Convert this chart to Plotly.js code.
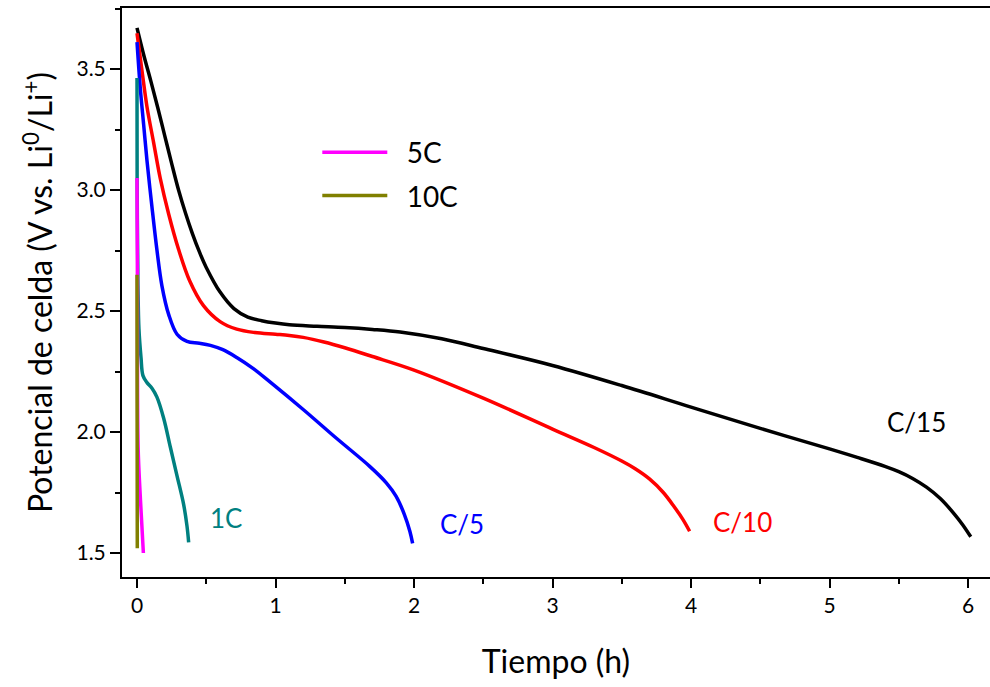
<!DOCTYPE html>
<html>
<head>
<meta charset="utf-8">
<script src="https://cdn.plot.ly/plotly-3.0.1.min.js"></script>
<style>
html,body{margin:0;padding:0;background:#fff;}
#chart{width:990px;height:687px;}
</style>
</head>
<body>
<div id="chart"></div>
<script>
// ---- Data (time in h, potential in V) ----
const t_C15 = [0, 0.05, 0.1, 0.15, 0.2, 0.25, 0.3, 0.35, 0.4, 0.45, 0.5, 0.6, 0.7, 0.8, 0.9, 1.0, 1.1, 1.3, 1.5, 1.7, 1.9, 2.2, 2.5, 3.0, 3.5, 4.0, 4.5, 5.0, 5.2, 5.4, 5.5, 5.6, 5.7, 5.8, 5.9, 5.96, 6.02];
const v_C15 = [3.670, 3.555, 3.450, 3.340, 3.225, 3.110, 3.000, 2.905, 2.820, 2.745, 2.680, 2.578, 2.510, 2.475, 2.460, 2.450, 2.443, 2.437, 2.432, 2.424, 2.413, 2.385, 2.345, 2.275, 2.192, 2.103, 2.015, 1.930, 1.895, 1.858, 1.836, 1.808, 1.772, 1.725, 1.662, 1.618, 1.567];

const t_C10 = [0, 0.036, 0.072, 0.12, 0.168, 0.229, 0.3, 0.38, 0.48, 0.6, 0.72, 0.85, 1.0, 1.1, 1.2, 1.35, 1.5, 1.7, 2.0, 2.5, 3.0, 3.3, 3.5, 3.6, 3.7, 3.8, 3.88, 3.94, 3.99];
const v_C10 = [3.648, 3.493, 3.344, 3.196, 3.048, 2.900, 2.755, 2.625, 2.522, 2.456, 2.425, 2.411, 2.404, 2.399, 2.391, 2.372, 2.348, 2.312, 2.256, 2.140, 2.012, 1.936, 1.880, 1.847, 1.806, 1.750, 1.690, 1.640, 1.590];

const t_C5 = [0, 0.024, 0.048, 0.072, 0.108, 0.144, 0.18, 0.229, 0.289, 0.361, 0.45, 0.53, 0.62, 0.72, 0.84, 0.96, 1.2, 1.44, 1.68, 1.8, 1.87, 1.93, 1.97, 1.99];
const v_C5 = [3.611, 3.419, 3.270, 3.122, 2.930, 2.752, 2.604, 2.485, 2.404, 2.374, 2.367, 2.358, 2.340, 2.308, 2.262, 2.207, 2.093, 1.974, 1.858, 1.790, 1.735, 1.660, 1.590, 1.540];

const t_1C = [0, 0.001, 0.007, 0.014, 0.029, 0.043, 0.072, 0.108, 0.144, 0.193, 0.241, 0.289, 0.337, 0.361, 0.373];
const v_1C = [3.463, 3.05, 2.604, 2.426, 2.307, 2.233, 2.204, 2.181, 2.144, 2.056, 1.937, 1.819, 1.700, 1.611, 1.544];

const t_5C = [0, 0.003, 0.008, 0.025, 0.046];
const v_5C = [3.05, 2.60, 1.94, 1.72, 1.50];

const t_10C = [0, 0.001, 0.002];
const v_10C = [2.65, 2.00, 1.52];

const xTicks = [0, 1, 2, 3, 4, 5, 6];
const yTicks = [1.5, 2.0, 2.5, 3.0, 3.5];
const curveLabels = ['C/15', 'C/10', 'C/5', '1C'];
const labelX = [5.63, 4.37, 2.35, 0.64];
const labelY = [2.04, 1.63, 1.62, 1.645];
const labelColors = ['#000000', '#ff0000', '#0000ff', '#008080'];

const FONT = 'Lato, "Open Sans", sans-serif';
const LW = 3.5;

function mk(x, y, name, color, extra) {
  return Object.assign({
    type: 'scatter', mode: 'lines', x: x, y: y, name: name,
    line: {color: color, width: LW, shape: 'spline', smoothing: 1}
  }, extra || {});
}

const traces = [
  mk(t_C15, v_C15, 'C/15', '#000000', {showlegend: false}),
  mk(t_C10, v_C10, 'C/10', '#ff0000', {showlegend: false}),
  mk(t_C5, v_C5, 'C/5', '#0000ff', {showlegend: false}),
  mk(t_1C, v_1C, '1C', '#008080', {showlegend: false}),
  mk(t_5C, v_5C, '\u00a0\u00a05C', '#ff00ff', {legendgroup: 'a'}),
  mk(t_10C, v_10C, '\u00a0\u00a010C', '#808000', {legendgroup: 'b'})
];

const annotations = curveLabels.map((txt, i) => ({
  x: labelX[i], y: labelY[i], xref: 'x', yref: 'y', text: txt, showarrow: false,
  font: {family: FONT, size: 26, color: labelColors[i]}
}));

const pxPerH = 138.5, x0px = 137, left = 122, right = 990;
const pxPerV = 242, y35px = 69, topPx = 8, botPx = 577;

const layout = {
  width: 990, height: 687,
  margin: {l: left, r: 990 - right, t: topPx, b: 687 - botPx},
  paper_bgcolor: '#ffffff', plot_bgcolor: '#ffffff',
  font: {family: FONT, color: '#000000'},
  showlegend: true,
  legend: {
    x: 0.225, y: 0.79, xanchor: 'left', yanchor: 'top',
    bgcolor: 'rgba(0,0,0,0)', font: {family: FONT, size: 28, color: '#000'},
    itemwidth: 65, tracegroupgap: 4, traceorder: 'grouped'
  },
  xaxis: {
    range: [(left - x0px) / pxPerH, (right - x0px) / pxPerH],
    tickvals: xTicks, ticktext: xTicks.map(String),
    ticks: 'outside', ticklen: 9, tickwidth: 2, tickcolor: '#000',
    minor: {dtick: 0.5, tick0: 0, ticks: 'outside', ticklen: 5, tickwidth: 2, tickcolor: '#000'},
    showline: true, linewidth: 2, linecolor: '#000', mirror: true,
    showgrid: false, zeroline: false,
    tickfont: {family: FONT, size: 21, color: '#000'},
    title: {text: 'Tiempo (h)', font: {family: FONT, size: 32, color: '#000'}, standoff: 34}
  },
  yaxis: {
    range: [3.5 - (botPx - y35px) / pxPerV, 3.5 + (y35px - topPx) / pxPerV],
    tickvals: yTicks, ticktext: yTicks.map(v => v.toFixed(1)),
    ticks: 'outside', ticklen: 10, tickwidth: 2, tickcolor: '#000',
    minor: {dtick: 0.25, tick0: 1.5, ticks: 'outside', ticklen: 5, tickwidth: 2, tickcolor: '#000'},
    showline: true, linewidth: 2, linecolor: '#000', mirror: false,
    showgrid: false, zeroline: false,
    tickfont: {family: FONT, size: 21, color: '#000'},
    title: {text: 'Potencial de celda (V vs. Li<sup>0</sup>/Li<sup>+</sup>)', font: {family: FONT, size: 32, color: '#000'}, standoff: 14}
  },
  annotations: annotations
};

Plotly.newPlot('chart', traces, layout, {displayModeBar: false, staticPlot: true});
</script>
</body>
</html>
